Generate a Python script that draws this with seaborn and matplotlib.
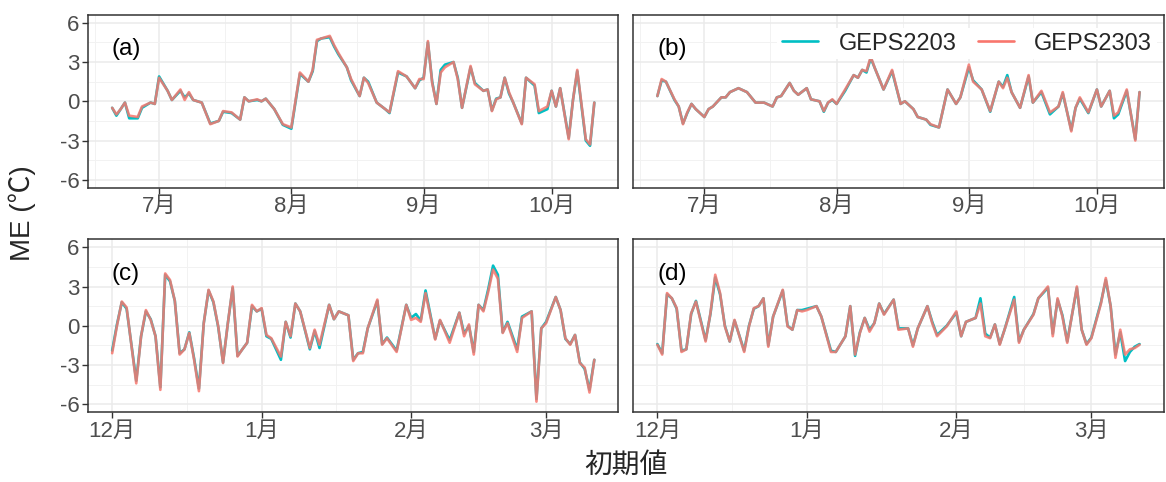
import pandas as pd
import seaborn as sns
import matplotlib.pyplot as plt
import matplotlib.dates as mdates
from matplotlib.ticker import FuncFormatter
from matplotlib.lines import Line2D

# (a),(b): days from 1 Jul 2023 ; (c),(d): days from 1 Dec 2022
a_day = [-11, -10, -9, -8, -7, -5, -4, -2, -1, 0, 2, 3, 5, 6, 7, 8, 10, 12, 14, 15,
         17, 19, 20, 21, 23, 24, 25, 27, 29, 31, 33, 35, 36, 37, 38, 40, 41, 42, 44, 45,
         47, 48, 49, 51, 53, 54, 56, 58, 60, 61, 62, 63, 64, 65, 66, 67, 69, 70, 71, 73,
         74, 76, 77, 78, 79, 80, 81, 82, 83, 85, 86, 88, 89, 91, 92, 93, 94, 96, 97, 98,
         100, 101, 102]
a_2303 = [-0.5, -1.0, -0.6, -0.1, -1.1, -1.2, -0.4, -0.1, -0.2, 1.8, 0.8, 0.1, 0.9, 0.1, 0.7,
          0.1, -0.1, -1.75, -1.5, -0.75, -0.85, -1.4, 0.3, 0.0, 0.15, 0.0, 0.2, -0.6, -1.75, -2.0,
          2.2, 1.5, 2.4, 4.7, 4.8, 5.0, 4.3, 3.7, 2.6, 1.7, 0.4, 1.8, 1.4, -0.1, -0.6,
          -0.85, 2.3, 1.9, 1.0, 1.7, 1.7, 4.6, 1.4, -0.2, 2.2, 2.6, 3.0, 1.7, -0.5, 2.7,
          1.3, 0.8, 0.9, -0.75, 0.15, 0.3, 1.8, 0.7, -0.1, -1.75, 1.8, 1.3, -0.75, -0.4, 0.8,
          -0.4, 1.0, -2.9, 0.1, 2.4, -2.9, -3.3, -0.1]
a_2203 = [-0.5, -1.1, -0.6, -0.1, -1.3, -1.3, -0.5, -0.1, -0.2, 1.9, 0.8, 0.1, 0.8, 0.3, 0.6,
          0.1, -0.1, -1.7, -1.5, -0.8, -0.9, -1.4, 0.3, 0.0, 0.1, 0.0, 0.2, -0.6, -1.8, -2.1,
          2.1, 1.5, 2.3, 4.6, 4.8, 4.9, 4.2, 3.6, 2.6, 1.6, 0.4, 1.8, 1.5, -0.1, -0.6,
          -0.9, 2.2, 1.9, 1.0, 1.6, 1.8, 4.5, 1.5, -0.2, 2.4, 2.8, 3.0, 1.8, -0.5, 2.6,
          1.4, 0.8, 0.9, -0.7, 0.2, 0.3, 1.8, 0.6, -0.1, -1.7, 1.8, 1.2, -0.9, -0.6, 0.8,
          -0.4, 1.0, -2.8, 0.1, 2.3, -3.0, -3.4, -0.1]

b_day = [-11, -10, -9, -7, -6, -5, -4, -3, -2, 0, 1, 2, 4, 5, 6, 8, 10, 12, 14, 16,
         17, 18, 20, 21, 22, 24, 25, 27, 28, 29, 30, 31, 33, 35, 36, 37, 38, 39, 40, 42,
         44, 46, 47, 49, 50, 52, 53, 55, 57, 59, 60, 62, 63, 65, 67, 69, 70, 71, 72, 74,
         76, 77, 79, 81, 83, 84, 86, 87, 88, 90, 92, 93, 95, 96, 97, 99, 101, 102]
b_2303 = [0.4, 1.7, 1.5, 0.15, -0.4, -1.75, -0.85, -0.2, -0.6, -1.2, -0.6, -0.4, 0.3, 0.3, 0.7,
          1.0, 0.7, -0.1, -0.1, -0.4, 0.3, 0.4, 1.4, 0.8, 0.5, 1.0, 0.15, 0.0, -0.75, -0.1,
          0.15, -0.2, 0.9, 2.0, 1.8, 2.4, 2.3, 3.4, 2.5, 0.9, 2.4, -0.2, 0.0, -0.6, -1.2,
          -1.4, -1.75, -2.0, 0.9, -0.2, 0.3, 2.8, 1.5, 0.9, -0.75, 1.5, 1.0, 1.8, 0.7, -0.5,
          2.0, -0.1, 0.8, -0.85, -0.4, 0.7, -2.3, -0.5, 0.3, -0.85, 0.9, -0.4, 0.8, -1.1, -0.85,
          0.9, -3.0, 0.7]
b_2203 = [0.4, 1.6, 1.5, 0.1, -0.4, -1.7, -0.9, -0.2, -0.6, -1.2, -0.6, -0.4, 0.3, 0.3, 0.7,
          1.0, 0.7, -0.1, -0.1, -0.4, 0.3, 0.4, 1.4, 0.8, 0.5, 1.0, 0.15, 0.0, -0.8, -0.1,
          0.1, -0.2, 0.8, 2.0, 1.8, 2.4, 2.2, 3.3, 2.5, 0.9, 2.3, -0.2, 0.0, -0.6, -1.2,
          -1.4, -1.8, -2.0, 0.9, -0.2, 0.3, 2.6, 1.6, 0.9, -0.8, 1.5, 1.1, 2.0, 0.7, -0.5,
          1.9, -0.1, 0.7, -1.0, -0.4, 0.6, -2.2, -0.5, 0.2, -0.9, 0.9, -0.4, 0.8, -1.3, -1.0,
          0.8, -2.9, 0.7]

c_day = [0, 1, 2, 3, 5, 6, 7, 8, 9, 10, 11, 12, 13, 14, 15, 16, 17, 18, 19, 20,
         21, 22, 23, 24, 25, 26, 27, 28, 29, 30, 31, 32, 33, 35, 36, 37, 38, 39, 41, 42,
         43, 45, 46, 47, 49, 50, 51, 52, 53, 55, 56, 57, 59, 61, 62, 63, 64, 65, 67, 68,
         70, 72, 73, 74, 75, 76, 77, 78, 79, 80, 81, 82, 84, 85, 87, 88, 89, 90, 92, 93,
         94, 95, 96, 97, 98, 99, 100]
c_2303 = [-2.1, 0.0, 1.85, 1.4, -4.4, -0.8, 1.2, 0.45, -0.8, -4.9, 4.0, 3.5, 1.9, -2.2, -1.8,
          -0.55, -2.6, -5.0, 0.2, 2.75, 1.85, -0.05, -2.85, 0.2, 3.0, -2.35, -1.8, -1.3, 1.6, 1.1,
          1.35, -0.7, -0.95, -2.35, 0.3, -0.8, 1.7, 1.1, -1.7, -0.3, -1.45, 1.6, 0.5, 1.1, 0.8,
          -2.7, -2.1, -2.1, -0.2, 2.0, -1.45, -0.95, -2.0, 1.6, 0.45, 0.6, 0.3, 2.5, -1.05, 0.45,
          -1.3, 1.0, -0.8, 0.1, -2.2, 1.6, 1.1, 2.6, 4.3, 3.6, -0.55, 0.2, -2.0, 0.6, 1.1,
          -5.8, -0.2, 0.2, 2.2, 1.2, -0.95, -1.45, -0.7, -2.85, -3.2, -5.1, -2.6]
c_2203 = [-1.9, 0.1, 1.8, 1.3, -4.2, -0.8, 1.1, 0.5, -0.8, -4.7, 3.9, 3.4, 1.9, -2.1, -1.8,
          -0.5, -2.5, -4.8, 0.2, 2.7, 1.8, -0.1, -2.8, 0.2, 2.9, -2.3, -1.8, -1.3, 1.5, 1.1,
          1.3, -0.8, -1.0, -2.6, 0.3, -0.9, 1.7, 1.1, -1.8, -0.4, -1.7, 1.6, 0.5, 1.1, 0.8,
          -2.6, -2.1, -2.0, -0.2, 1.9, -1.4, -0.9, -1.9, 1.6, 0.6, 0.9, 0.4, 2.7, -1.0, 0.4,
          -1.1, 1.0, -0.6, 0.0, -2.0, 1.6, 1.2, 2.8, 4.6, 3.9, -0.5, 0.3, -1.8, 0.7, 1.1,
          -5.6, -0.2, 0.3, 2.2, 1.2, -1.0, -1.4, -0.7, -2.8, -3.3, -4.9, -2.6]

d_day = [0, 1, 2, 3, 4, 5, 6, 7, 8, 10, 11, 12, 13, 14, 15, 16, 18, 19, 20, 21,
         22, 23, 24, 26, 27, 28, 29, 30, 31, 33, 34, 36, 37, 39, 40, 41, 42, 43, 44, 45,
         46, 47, 49, 50, 52, 53, 54, 56, 57, 58, 60, 62, 63, 64, 66, 67, 68, 69, 70, 71,
         72, 74, 75, 76, 78, 79, 81, 82, 83, 84, 85, 87, 88, 89, 90, 92, 93, 94, 95, 96,
         97, 98, 99, 100]
d_2303 = [-1.45, -2.2, 2.5, 2.1, 1.35, -2.0, -1.8, 0.95, 1.85, -1.2, 0.95, 3.9, 2.5, -0.05, -1.2,
          0.45, -2.0, -0.05, 1.35, 1.5, 2.1, -1.6, 0.7, 2.75, -0.05, -0.3, 1.2, 1.1, 1.2, 1.5,
          0.7, -2.0, -2.0, -0.8, 1.5, -2.2, -0.55, 0.6, -0.45, 0.2, 1.7, 0.85, 2.0, -0.3, -0.2,
          -1.6, -0.2, 1.5, 0.2, -0.8, -0.05, 1.1, -0.8, 0.3, 0.6, 1.7, -0.8, -0.95, 0.1, -1.45,
          -0.3, 2.0, -1.3, -0.3, 0.85, 2.1, 3.0, -0.8, 2.1, 0.7, -1.3, 3.0, -0.3, -1.45, -0.95,
          1.7, 3.65, 1.5, -2.45, -0.3, -2.2, -1.8, -1.7, -1.45]
d_2203 = [-1.4, -2.1, 2.4, 2.1, 1.3, -1.9, -1.8, 0.9, 1.9, -1.1, 0.9, 3.7, 2.4, 0.0, -1.2,
          0.4, -1.9, 0.0, 1.3, 1.5, 2.1, -1.5, 0.7, 2.7, 0.0, -0.3, 1.2, 1.2, 1.3, 1.5,
          0.7, -1.9, -2.0, -0.8, 1.5, -2.3, -0.5, 0.6, -0.3, 0.2, 1.7, 0.9, 2.0, -0.2, -0.2,
          -1.5, -0.2, 1.5, 0.3, -0.7, 0.0, 1.0, -0.8, 0.3, 0.6, 2.1, -0.6, -0.9, 0.1, -1.4,
          -0.3, 2.2, -1.2, -0.3, 0.9, 2.1, 2.9, -0.6, 2.0, 0.8, -1.2, 2.9, -0.3, -1.4, -0.9,
          1.8, 3.5, 1.5, -2.2, -0.5, -2.7, -2.0, -1.6, -1.4]

models = ["GEPS2203", "GEPS2303"]
colors = {"GEPS2203": "#00BFC4", "GEPS2303": "#F8766D"}


def panel_frame(start, days, v2203, v2303, tag):
    dates = pd.Timestamp(start) + pd.to_timedelta(days, unit="D")
    d1 = pd.DataFrame({"date": dates, "ME": v2203, "model": "GEPS2203"})
    d2 = pd.DataFrame({"date": dates, "ME": v2303, "model": "GEPS2303"})
    out = pd.concat([d1, d2], ignore_index=True)
    out["panel"] = tag
    return out


df = pd.concat([
    panel_frame("2023-07-01", a_day, a_2203, a_2303, "a"),
    panel_frame("2023-07-01", b_day, b_2203, b_2303, "b"),
    panel_frame("2022-12-01", c_day, c_2203, c_2303, "c"),
    panel_frame("2022-12-01", d_day, d_2203, d_2303, "d"),
], ignore_index=True)

sns.set_theme(style="white")
plt.rcParams['font.family'] = ['Liberation Sans', 'Noto Sans CJK JP']
plt.rcParams['axes.unicode_minus'] = False

fig, axes = plt.subplots(2, 2, figsize=(11.66, 4.82), dpi=100, sharey=True)
fig.subplots_adjust(left=0.0755, right=0.998, top=0.969, bottom=0.145, wspace=0.028, hspace=0.30)

month_fmt = FuncFormatter(lambda v, p: f"{mdates.num2date(v).month}月")

for ax, tag in zip(axes.flat, "abcd"):
    sub = df[df.panel == tag]
    sns.lineplot(data=sub, x="date", y="ME", hue="model", hue_order=models, palette=colors,
                 linewidth=1.9, errorbar=None, legend=False, ax=ax)
    ax.lines[-1].set_alpha(0.85)

    # minor grid halfway between months (like ggplot)
    lo, hi = sub.date.min(), sub.date.max()
    ms = pd.date_range(lo - pd.DateOffset(months=2), hi + pd.DateOffset(months=2), freq="MS")
    mn = mdates.date2num(ms)
    ax.set_xticks((mn[:-1] + mn[1:]) / 2, minor=True)
    ax.xaxis.set_major_locator(mdates.MonthLocator())
    ax.xaxis.set_major_formatter(month_fmt)
    # x range with ggplot-like 5% expansion
    pad = (hi - lo) * 0.05
    ax.set_xlim(lo - pad, hi + pad)

    ax.set_yticks([-6, -3, 0, 3, 6])
    ax.set_yticks([-4.5, -1.5, 1.5, 4.5], minor=True)
    ax.set_ylim(-6.6, 6.6)

    ax.set_axisbelow(True)
    ax.grid(which="major", color="#EBEBEB", linewidth=1.1)
    ax.grid(which="minor", color="#F2F2F2", linewidth=0.7)
    for s in ax.spines.values():
        s.set_color("#333333")
        s.set_linewidth(1.1)
    ax.tick_params(which="major", length=4, width=1.0, color="#333333",
                   labelsize=16, labelcolor="#4D4D4D", pad=2, bottom=True, left=True)
    ax.tick_params(which="minor", length=0)
    ax.set_xlabel("")
    ax.set_ylabel("")
    ax.text(0.045, 0.80, f"({tag})", transform=ax.transAxes, fontsize=17.5,
            va="center", ha="left", color="black")

for ax in axes[:, 1]:
    ax.tick_params(axis="y", left=False, labelleft=False)

handles = [Line2D([], [], color=colors[m], linewidth=1.9) for m in models]
leg = axes[0, 1].legend(handles, models, ncol=2, loc="upper right", bbox_to_anchor=(0.987, 0.925),
                        borderaxespad=0, frameon=True, fancybox=False, fontsize=17,
                        handlelength=1.55, handletextpad=0.85, columnspacing=0.9, borderpad=0.2)
leg.get_frame().set_facecolor("white")
leg.get_frame().set_edgecolor("none")
leg.get_frame().set_alpha(1)

fig.text(0.019, 0.557, "ME (℃)", rotation=90, fontsize=20, va="center", ha="center")
fig.text(0.537, 0.033, "初期値", fontsize=20, va="center", ha="center")

fig.savefig("out.png", dpi=100)
